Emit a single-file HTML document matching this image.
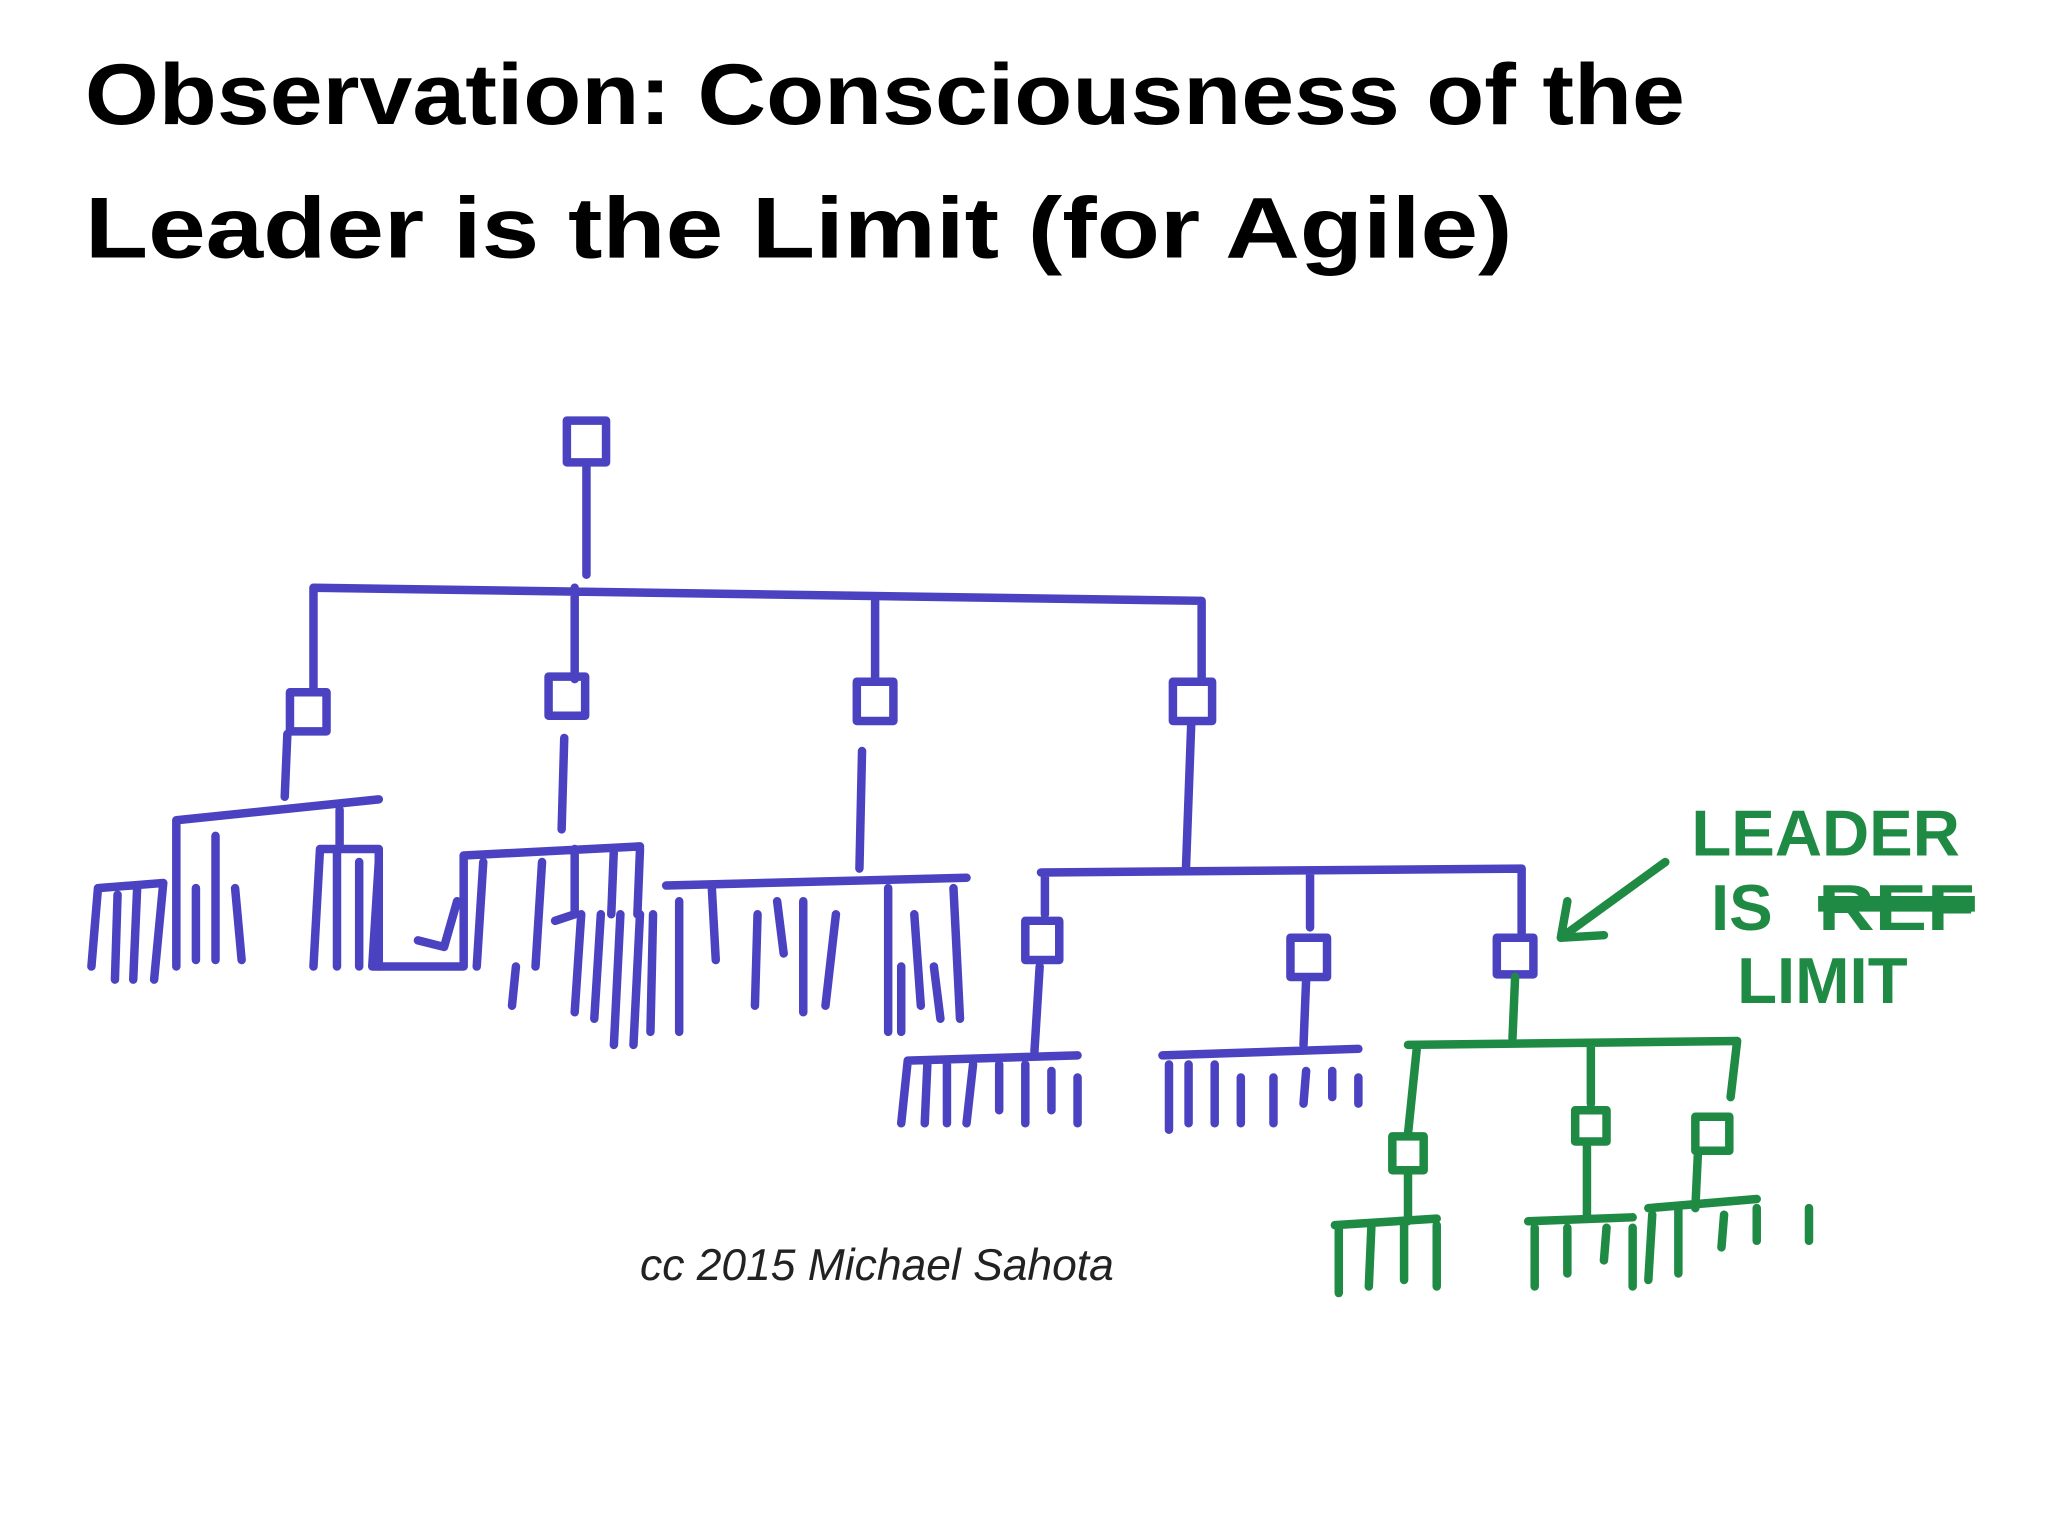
<!DOCTYPE html>
<html><head><meta charset="utf-8"><style>
html,body{margin:0;padding:0;background:#fff;width:2048px;height:1536px;overflow:hidden}
svg{display:block}
</style></head><body>
<svg width="2048" height="1536" viewBox="0 0 1568 1176" xmlns="http://www.w3.org/2000/svg">
<rect width="1568" height="1176" fill="#fff"/>
<g font-family="Liberation Sans, sans-serif" font-weight="bold" font-size="66" fill="#000">
<text x="65" y="95" textLength="1225" lengthAdjust="spacingAndGlyphs">Observation: Consciousness of the</text>
<text x="65" y="197" textLength="1093" lengthAdjust="spacingAndGlyphs">Leader is the Limit (for Agile)</text>
</g>
<g stroke="#4a42c0" stroke-width="6.5" fill="none" stroke-linecap="round" stroke-linejoin="round">
<rect x="434" y="322" width="30" height="32"/>
<path d="M449 356 L449 440 M240 530 L240 450 L920 460 L920 520 M440 450 L440 520 M670 460 L670 520"/>
<rect x="222" y="530" width="28" height="30"/>
<rect x="420" y="518" width="28" height="30"/>
<rect x="656" y="522" width="28" height="30"/>
<rect x="898" y="522" width="30" height="30"/>
<path d="M220 562 L218 610 M135 628 L290 612 M70 740 L75 680 L125 676 L118 750 M90 685 L88 750 M105 680 L102 750 M135 628 L135 740 M150 680 L150 735 M165 640 L165 735 M180 680 L185 735 M240 740 L245 650 L290 650 L290 740 M260 620 L260 650 M258 650 L258 740 M275 660 L275 740"/>
<path d="M432 565 L430 635 M355 655 L490 648 M355 655 L355 740 L285 740 L290 660 M320 720 L340 725 L350 690 M370 660 L365 740 M395 740 L392 770 M415 660 L410 740 M440 650 L440 700 L425 705 M470 650 L468 700 M490 650 L488 700 M445 700 L440 775 M460 700 L455 780"/>
<path d="M660 575 L658 665 M510 678 L740 672 M520 690 L520 790 M475 700 L470 800 M490 700 L485 800 M500 700 L498 790 M545 680 L548 735 M580 700 L578 770 M595 690 L600 730 M615 690 L615 775 M640 700 L632 770 M680 680 L680 790 M700 700 L705 770 M730 680 L735 780 M690 740 L690 790 M715 740 L720 780"/>
<path d="M912 555 L908 665 M797 668 L1165 665 M800 668 L800 700 M1003 668 L1003 710 M1165 665 L1165 715"/>
<rect x="785" y="705" width="26" height="30"/>
<rect x="988" y="718" width="28" height="30"/>
<rect x="1146" y="718" width="28" height="28"/>
<path d="M796 740 L792 805 M695 812 L825 808 M695 812 L690 860 M710 815 L708 860 M725 815 L725 860 M745 815 L740 860 M765 815 L765 850 M785 815 L785 860 M805 820 L805 850 M825 825 L825 860"/>
<path d="M1000 750 L998 800 M890 808 L1040 803 M895 815 L895 865 M910 815 L910 860 M930 815 L930 860 M950 825 L950 860 M975 825 L975 860 M1000 820 L998 845 M1020 820 L1020 840 M1040 825 L1040 845"/>
</g>
<g stroke="#1f8a44" stroke-width="6.5" fill="none" stroke-linecap="round" stroke-linejoin="round">
<path d="M1160 748 L1158 795 M1078 800 L1330 797 M1085 800 L1078 868 M1218 800 L1218 845 M1330 797 L1325 840"/>
<rect x="1066" y="870" width="24" height="26"/>
<rect x="1206" y="850" width="24" height="24"/>
<rect x="1298" y="855" width="26" height="26"/>
<path d="M1078 898 L1078 935 M1022 938 L1100 933 M1025 938 L1025 990 M1050 938 L1048 985 M1075 938 L1075 980 M1100 938 L1100 985"/>
<path d="M1215 876 L1215 930 M1170 935 L1250 932 M1175 940 L1175 985 M1200 940 L1200 975 M1230 940 L1228 965 M1250 940 L1250 985"/>
<path d="M1300 882 L1298 925 M1262 925 L1345 918 M1265 930 L1262 980 M1285 925 L1285 975 M1320 930 L1318 955 M1345 925 L1345 950 M1385 925 L1385 950"/>
<path d="M1275 660 L1195 718 M1195 718 L1200 690 M1195 718 L1228 716"/>
</g>
<g fill="#1f8a44" font-family="Liberation Sans, sans-serif" font-weight="bold" font-size="50">
<text x="1295" y="655">LEADER</text>
<text x="1310" y="712">IS</text>
<text x="1392" y="712" textLength="120" lengthAdjust="spacingAndGlyphs">REF</text>
<text x="1330" y="768">LIMIT</text>
</g>
<path d="M1392 692 L1512 692" stroke="#1f8a44" stroke-width="12"/>
<text x="490" y="980" font-family="Liberation Sans, sans-serif" font-style="italic" font-size="34" fill="#222">cc 2015 Michael Sahota</text>
</svg>
</body></html>
